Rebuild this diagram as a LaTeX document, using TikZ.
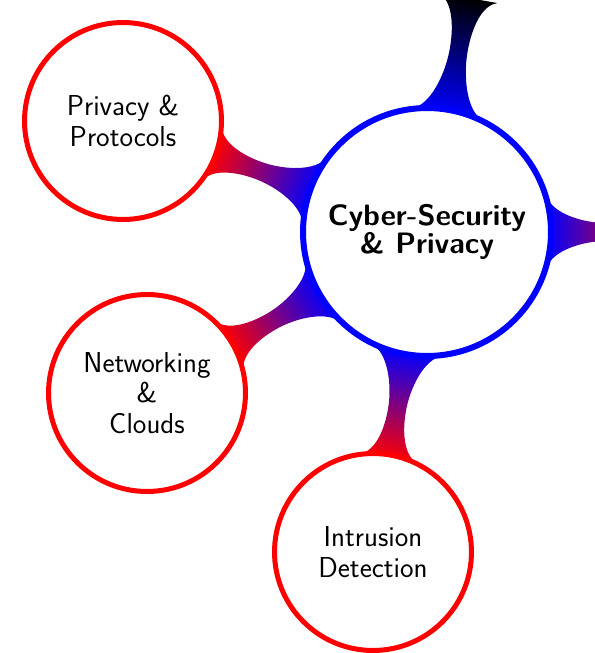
\documentclass[tikz,border=0pt]{standalone}
\usepackage{fontspec}
\pgfdeclarelayer{bg}
\pgfsetlayers{bg,main}
% #1 from node, #2 to node, #3 R (px), #4 r (px), #5 colour at #1, #6 colour at #2
\newcommand\mmbar[6]{%
  \pgfpointdiff{\pgfpointanchor{#1}{center}}{\pgfpointanchor{#2}{center}}%
  \pgfgetlastxy\mmdx\mmdy
  \pgfmathsetmacro\mmang{atan2(\mmdy,\mmdx)}%
  \pgfmathsetmacro\mmdist{veclen(\mmdx,\mmdy)/0.5690551}%
  \pgfpointanchor{#1}{center}\pgfgetlastxy\mmx\mmy
  \pgfmathsetmacro\mmA{asin(36/#3)}%
  \pgfmathsetmacro\mmB{asin(30/#4)}%
  \pgfmathsetmacro\pax{#3*cos(\mmA)}%
  \pgfmathsetmacro\pay{#3*sin(\mmA)}%
  \pgfmathsetmacro\pbx{\mmdist-#4*cos(\mmB)}%
  \pgfmathsetmacro\pby{#4*sin(\mmB)}%
  \pgfmathsetmacro\cax{\pax+18*sin(\mmA)}%
  \pgfmathsetmacro\cay{\pay-18*cos(\mmA)}%
  \pgfmathsetmacro\cbx{\pbx-15*sin(\mmB)}%
  \pgfmathsetmacro\cby{\pby-15*cos(\mmB)}%
  \pgfmathsetmacro\wm{\pax+0.55*(\pbx-\pax)}%
  \pgfmathsetmacro\wb{0.22*(\pbx-\pax)}%
  \pgfmathsetmacro\ww{9}%
  \begin{scope}[transform canvas={shift={(\mmx,\mmy)},rotate=\mmang}]
    \shade[left color=#5,right color=#6]
      (\pax,-\pay) -- (\pax,\pay)
      .. controls (\cax,\cay) and ({\wm-\wb},\ww) .. (\wm,\ww)
      .. controls ({\wm+\wb},\ww) and (\cbx,\cby) .. (\pbx,\pby)
      -- (\pbx,-\pby)
      .. controls (\cbx,-\cby) and ({\wm+\wb},-\ww) .. (\wm,-\ww)
      .. controls ({\wm-\wb},-\ww) and (\cax,-\cay) .. (\pax,-\pay)
      -- cycle;
  \end{scope}}
\begin{document}
\begin{tikzpicture}[x=0.02cm,y=-0.02cm,
  rootc/.style={circle, draw=blue, line width=0.12cm, fill=white,
    minimum size=4.96cm, inner sep=0pt, align=center,
    font=\sffamily\bfseries\fontsize{16.8}{16.4}\selectfont},
  childc/.style={circle, draw=red, line width=0.1cm, fill=white,
    minimum size=3.94cm, inner sep=0pt, align=center,
    font=\sffamily\fontsize{16.4}{17.4}\selectfont}]
\useasboundingbox (0,0) rectangle (595,653);
\clip (0,0) rectangle (595,653);
\node[rootc] (C) at (427,232) {Cyber-Security\\\& Privacy};
\node[childc] (P) at (123,121) {Privacy \&\\Protocols};
\node[childc] (N) at (147,393) {Networking\\\&\\Clouds};
\node[childc] (I) at (373,552) {Intrusion\\Detection};
\coordinate (T) at (484,-95);
\coordinate (E) at (749,232);
\begin{pgfonlayer}{bg}
\clip (0,0) rectangle (595,653);
\mmbar{C}{P}{125}{99}{blue}{red}
\mmbar{C}{N}{125}{99}{blue}{red}
\mmbar{C}{I}{125}{99}{blue}{red}
\mmbar{C}{T}{125}{99}{blue}{black}
\mmbar{C}{E}{125}{99}{blue}{red}
\end{pgfonlayer}
\end{tikzpicture}
\end{document}
